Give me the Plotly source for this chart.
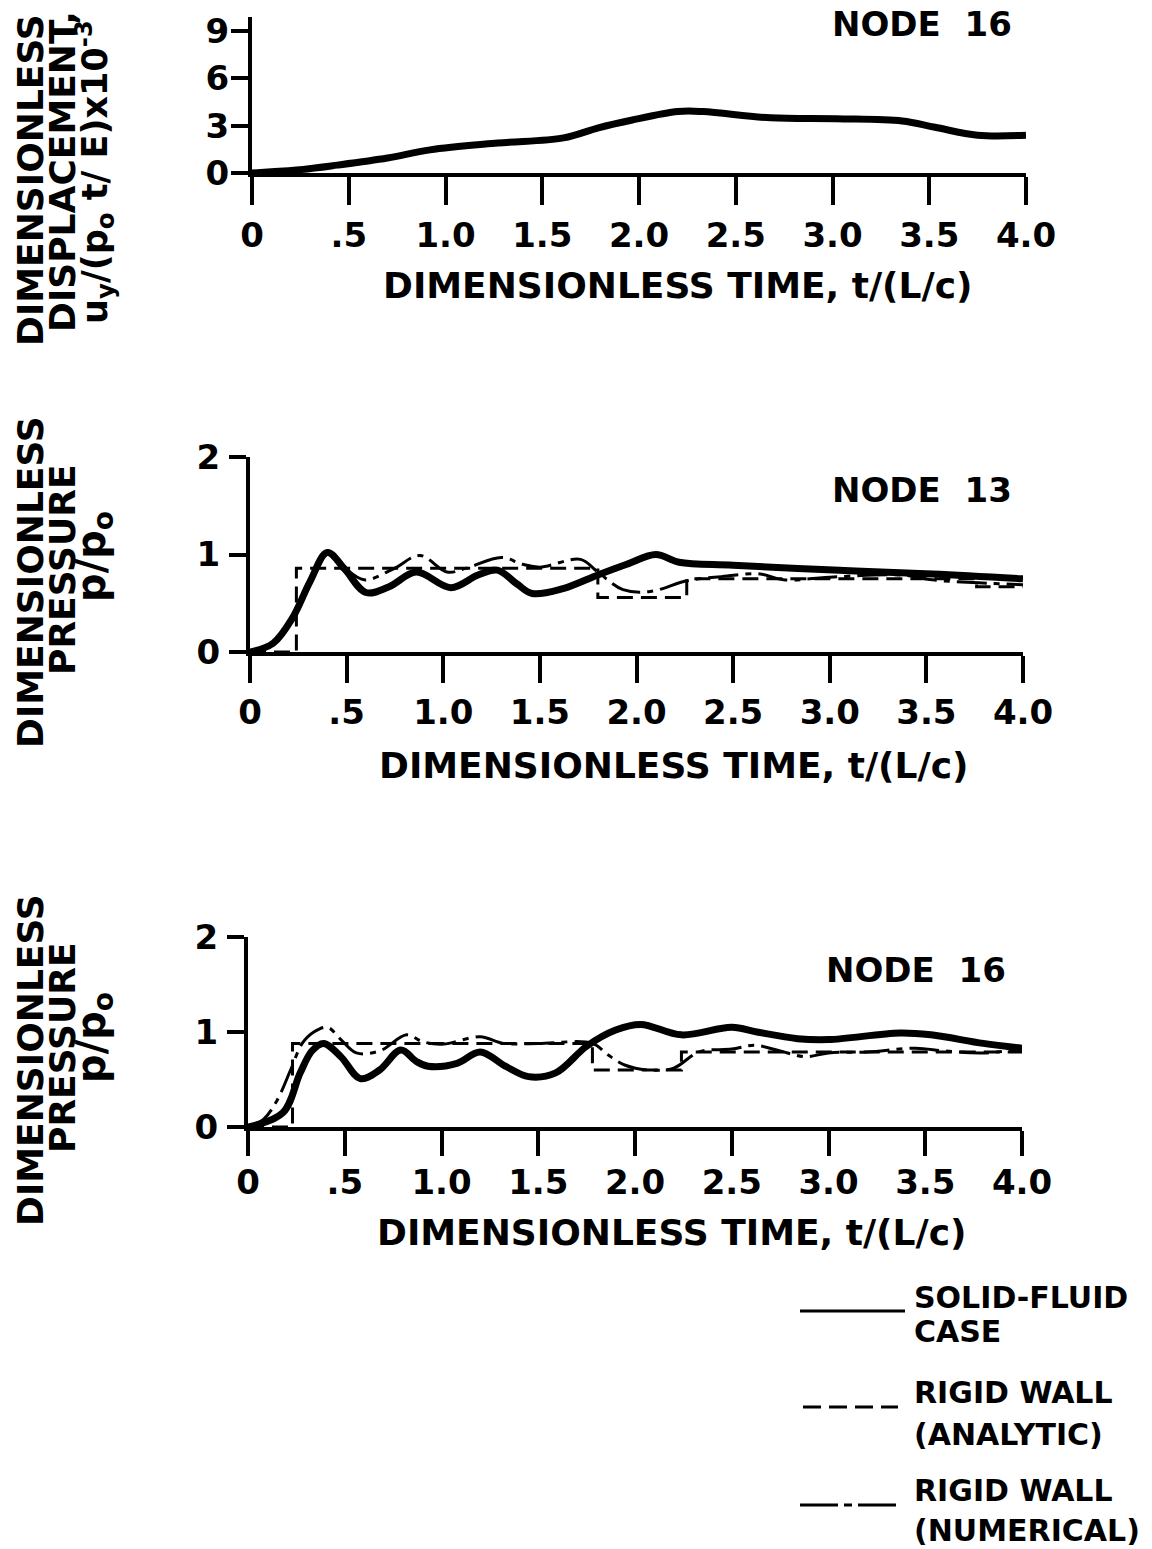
import plotly.graph_objects as go

W, H = 1152, 1549

# ---------------- data ----------------
x_tickvals = [0, 0.5, 1.0, 1.5, 2.0, 2.5, 3.0, 3.5, 4.0]
x_ticktext = ["0", ".5", "1.0", "1.5", "2.0", "2.5", "3.0", "3.5", "4.0"]
disp_tickvals = [0, 3, 6, 9]
pres_tickvals = [0, 1, 2]

# Node 16 displacement  u_y/(p0 t/E) x 10^-3
t_disp = [0, 0.23, 0.44, 0.70, 0.92, 1.27, 1.61, 1.79, 1.96, 2.20, 2.33, 2.68, 3.02, 3.36, 3.53, 3.75, 4.0]
u_disp = [0, 0.19, 0.50, 0.95, 1.47, 1.90, 2.23, 2.87, 3.35, 3.90, 3.90, 3.50, 3.44, 3.30, 2.90, 2.40, 2.40]

# Node 13 pressure
t13_solid = [0, 0.12, 0.22, 0.31, 0.40, 0.49, 0.60, 0.72, 0.86, 1.04, 1.18, 1.28, 1.38, 1.46,
             1.62, 1.80, 1.95, 2.10, 2.22, 2.50, 3.02, 3.53, 4.0]
p13_solid = [0, 0.09, 0.35, 0.72, 1.02, 0.85, 0.61, 0.67, 0.82, 0.66, 0.79, 0.84, 0.70, 0.60,
             0.65, 0.79, 0.90, 1.00, 0.92, 0.89, 0.84, 0.80, 0.75]
t13_num = [0, 0.12, 0.22, 0.31, 0.40, 0.48, 0.59, 0.74, 0.88, 1.02, 1.12, 1.30, 1.41, 1.50,
           1.71, 1.80, 1.93, 2.07, 2.26, 2.42, 2.64, 2.76, 3.02, 3.37, 3.53, 3.77, 4.0]
p13_num = [0, 0.10, 0.38, 0.75, 1.02, 0.88, 0.74, 0.85, 0.99, 0.82, 0.86, 0.97, 0.90, 0.87,
           0.95, 0.82, 0.64, 0.62, 0.73, 0.77, 0.80, 0.74, 0.77, 0.79, 0.74, 0.71, 0.69]
t13_ana = [0, 0.24, 1.80, 2.26, 3.76, 4.0]
p13_ana = [0, 0.86, 0.56, 0.75, 0.67, 0.67]

# Node 16 pressure
t16_solid = [0, 0.18, 0.27, 0.33, 0.39, 0.48, 0.58, 0.68, 0.79, 0.87, 0.93, 1.08, 1.20, 1.33,
             1.45, 1.59, 1.75, 1.90, 2.03, 2.24, 2.50, 2.63, 2.84, 3.00, 3.37, 3.53, 3.80, 4.0]
p16_solid = [0, 0.15, 0.57, 0.80, 0.88, 0.74, 0.51, 0.60, 0.81, 0.69, 0.64, 0.67, 0.79, 0.64,
             0.53, 0.57, 0.85, 1.02, 1.08, 0.97, 1.05, 1.00, 0.93, 0.92, 0.99, 0.97, 0.88, 0.83]
t16_num = [0, 0.08, 0.15, 0.22, 0.28, 0.34, 0.41, 0.48, 0.56, 0.68, 0.82, 0.90, 1.00, 1.20,
           1.32, 1.50, 1.78, 1.86, 1.95, 2.07, 2.20, 2.33, 2.50, 2.62, 2.75, 2.88, 3.00, 3.20,
           3.45, 3.60, 3.80, 4.0]
p16_num = [0, 0.08, 0.28, 0.60, 0.88, 1.00, 1.05, 0.92, 0.78, 0.80, 0.97, 0.90, 0.87, 0.95,
           0.88, 0.88, 0.88, 0.76, 0.65, 0.60, 0.62, 0.79, 0.82, 0.86, 0.80, 0.74, 0.78, 0.79,
           0.83, 0.80, 0.78, 0.82]
t16_ana = [0, 0.23, 1.78, 2.24, 4.0]
p16_ana = [0, 0.88, 0.60, 0.79, 0.79]

# ---------------- styling ----------------
FONT = "DejaVu Sans"
BLACK = "#000000"
THICK = 7
THIN = 3
DASH = "16px,8px"
DASHDOT = "30px,7px,6px,7px"


def px(x):
    return x / W


def py(y):
    return 1 - y / H


fig = go.Figure()

# top: displacement
fig.add_trace(go.Scatter(x=t_disp, y=u_disp, mode="lines", xaxis="x", yaxis="y",
                         line=dict(color=BLACK, width=THICK, shape="spline", smoothing=1.0)))
# middle: node 13
fig.add_trace(go.Scatter(x=t13_ana, y=p13_ana, mode="lines", xaxis="x2", yaxis="y2",
                         line=dict(color=BLACK, width=THIN, shape="hv", dash=DASH)))
fig.add_trace(go.Scatter(x=t13_num, y=p13_num, mode="lines", xaxis="x2", yaxis="y2",
                         line=dict(color=BLACK, width=THIN, shape="spline", smoothing=1.0, dash=DASHDOT)))
fig.add_trace(go.Scatter(x=t13_solid, y=p13_solid, mode="lines", xaxis="x2", yaxis="y2",
                         line=dict(color=BLACK, width=THICK, shape="spline", smoothing=1.0)))
# bottom: node 16
fig.add_trace(go.Scatter(x=t16_ana, y=p16_ana, mode="lines", xaxis="x3", yaxis="y3",
                         line=dict(color=BLACK, width=THIN, shape="hv", dash=DASH)))
fig.add_trace(go.Scatter(x=t16_num, y=p16_num, mode="lines", xaxis="x3", yaxis="y3",
                         line=dict(color=BLACK, width=THIN, shape="spline", smoothing=1.0, dash=DASHDOT)))
fig.add_trace(go.Scatter(x=t16_solid, y=p16_solid, mode="lines", xaxis="x3", yaxis="y3",
                         line=dict(color=BLACK, width=THICK, shape="spline", smoothing=1.0)))

tickfont = dict(family=FONT, size=34, color=BLACK, weight="bold")


def xaxis(dom_px, anchor, ticklen, standoff):
    return dict(domain=[px(dom_px[0]), px(dom_px[1])], range=[0, 4], anchor=anchor,
                tickvals=x_tickvals, ticktext=x_ticktext, ticks="outside", ticklen=ticklen,
                tickwidth=4, tickcolor=BLACK, showline=True, linewidth=4, linecolor=BLACK,
                showgrid=False, zeroline=False, tickfont=tickfont, ticklabelstandoff=standoff,
                fixedrange=True)


def yaxis(dom_px, rng, tickvals, anchor, standoff):
    return dict(domain=[py(dom_px[0]), py(dom_px[1])], range=rng, anchor=anchor,
                tickvals=tickvals, ticks="outside", ticklen=17, tickwidth=4, tickcolor=BLACK,
                showline=True, linewidth=4, linecolor=BLACK, showgrid=False, zeroline=False,
                tickfont=tickfont, ticklabelstandoff=standoff, fixedrange=True)


annotations = []


def label(text, x, y, size, angle=0, xanchor="center"):
    annotations.append(dict(text=text, x=px(x), y=py(y), xref="paper", yref="paper",
                            showarrow=False, textangle=angle, xanchor=xanchor, yanchor="middle",
                            borderpad=0,
                            font=dict(family=FONT, size=size, color=BLACK, weight="bold")))


NB = "\u00a0"
# node labels
label("NODE" + NB * 2 + "16", 922, 24, 34)
label("NODE" + NB * 2 + "13", 922, 490, 34)
label("NODE" + NB * 2 + "16", 916, 970, 34)

# x-axis titles
xt = "DIMENSIONLESS" + NB + "TIME," + NB + "t/(L/c)"
label(xt, 677, 285, 36)
label(xt, 673, 765, 36)
label(xt, 671, 1232, 36)

# y-axis titles (rotated)
label("DIMENSIONLESS", 30, 180, 36, -90)
label("DISPLACEMENT,", 62, 172, 36, -90)
label("u<sub>y</sub>/(p<sub>o</sub>" + NB + "t/" + NB + "E)x10<sup>-3</sup>", 94, 172, 35, -90)

label("DIMENSIONLESS", 30, 582, 36, -90)
label("PRESSURE", 62, 570, 36, -90)
label("p/p<sub>o</sub>", 94, 557, 40, -90)

label("DIMENSIONLESS", 30, 1060, 36, -90)
label("PRESSURE", 62, 1048, 36, -90)
label("p/p<sub>o</sub>", 94, 1038, 40, -90)

# legend text
LEG = 30
label("SOLID-FLUID", 913, 1297, LEG, xanchor="left")
label("CASE", 913, 1331, LEG, xanchor="left")
label("RIGID" + NB + "WALL", 913, 1392, LEG, xanchor="left")
label("(ANALYTIC)", 913, 1434, LEG, xanchor="left")
label("RIGID" + NB + "WALL", 913, 1490, LEG, xanchor="left")
label("(NUMERICAL)", 913, 1530, LEG, xanchor="left")

shapes = [
    dict(type="line", xref="paper", yref="paper", x0=px(800), x1=px(905), y0=py(1311), y1=py(1311),
         line=dict(color=BLACK, width=3)),
    dict(type="line", xref="paper", yref="paper", x0=px(803), x1=px(898), y0=py(1407), y1=py(1407),
         line=dict(color=BLACK, width=3, dash="18px,8px")),
    dict(type="line", xref="paper", yref="paper", x0=px(800), x1=px(902), y0=py(1505), y1=py(1505),
         line=dict(color=BLACK, width=3, dash="38px,6px,8px,6px")),
]

fig.update_layout(
    width=W, height=H, margin=dict(l=0, r=0, t=0, b=0, autoexpand=False),
    paper_bgcolor="white", plot_bgcolor="white", showlegend=False,
    xaxis=xaxis((252, 1026), "y", 28, 1),
    yaxis=yaxis((173, 17), [0, 9.9], disp_tickvals, "x", -5),
    xaxis2=xaxis((250, 1023), "y2", 27, 0),
    yaxis2=yaxis((652, 457), [0, 2], pres_tickvals, "x2", 2),
    xaxis3=xaxis((248, 1022), "y3", 25, -3),
    yaxis3=yaxis((1127, 937), [0, 2], pres_tickvals, "x3", 2),
    annotations=annotations, shapes=shapes,
)

fig.write_html("out.html")
